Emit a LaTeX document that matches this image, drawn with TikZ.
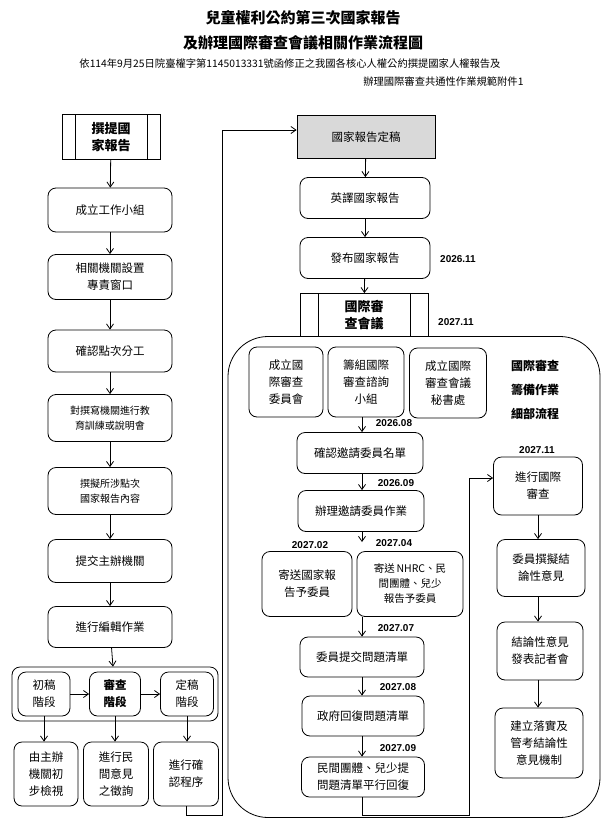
\documentclass[tikz,border=0pt]{standalone}
\usepackage{fontspec}
\setmainfont{Noto Sans CJK TC}
\newfontfamily\dt{Liberation Sans}
\usetikzlibrary{arrows.meta}
\begin{document}
\begin{tikzpicture}[x=1pt,y=-1pt,
 bx/.style={draw,rounded corners=8pt,thick,align=center,font=\fontsize{11.5}{17}\selectfont,inner sep=0pt},
 ar/.style={-{Straight Barb[length=5pt,width=7pt]},thick},
 ln/.style={thick},
 dat/.style={font=\dt\bfseries\fontsize{10}{12}\selectfont}]
\useasboundingbox (0,0) rectangle (607,825);
\node[font=\bfseries\fontsize{15}{18}\selectfont] (t1) at (303,18) {兒童權利公約第三次國家報告};
\node[font=\bfseries\fontsize{15}{18}\selectfont] (t2) at (303,43) {及辦理國際審查會議相關作業流程圖};
\node[font=\fontsize{10.3}{12}\selectfont] (t3) at (290,64) {依114年9月25日院臺權字第1145013331號函修正之我國各核心人權公約撰提國家人權報告及};
\node[font=\fontsize{10.3}{12}\selectfont,anchor=east] (t4) at (527,82) {辦理國際審查共通性作業規範附件1};
% left column
\node[draw,thick,minimum width=98pt,minimum height=45pt,align=center,font=\bfseries\fontsize{13}{17}\selectfont] (a0) at (111,137) {撰提國\\家報告};
\draw[thick] (75,115)--(75,160) (147,115)--(147,160);
\node[bx,minimum width=124pt,minimum height=44pt] (a1) at (110,210) {成立工作小組};
\node[bx,minimum width=124pt,minimum height=45pt] (a2) at (110,277) {相關機關設置\\專責窗口};
\node[bx,minimum width=124pt,minimum height=42pt] (a3) at (110,351) {確認點次分工};
\node[bx,minimum width=124pt,minimum height=47pt,font=\fontsize{10}{15}\selectfont] (a4) at (110,418) {對撰寫機關進行教\\育訓練或說明會};
\node[bx,minimum width=124pt,minimum height=47pt,font=\fontsize{10}{15}\selectfont] (a5) at (110,491) {撰擬所涉點次\\國家報告內容};
\node[bx,minimum width=124pt,minimum height=43pt] (a6) at (110,561) {提交主辦機關};
\node[bx,minimum width=124pt,minimum height=41pt] (a7) at (110,627) {進行編輯作業};
\node[draw,thick,rounded corners=8pt,minimum width=206pt,minimum height=54pt] (g) at (115,694) {};
\node[bx,minimum width=52pt,minimum height=44pt] (s1) at (44,694) {初稿\\階段};
\node[bx,minimum width=51pt,minimum height=44pt,font=\bfseries\fontsize{11.5}{17}\selectfont] (s2) at (115,694) {審查\\階段};
\node[bx,minimum width=53pt,minimum height=44pt] (s3) at (187,694) {定稿\\階段};
\node[bx,minimum width=64pt,minimum height=64pt] (b1) at (46,774) {由主辦\\機關初\\步檢視};
\node[bx,minimum width=65pt,minimum height=64pt] (b2) at (116,774) {進行民\\間意見\\之徵詢};
\node[bx,minimum width=65pt,minimum height=64pt] (b3) at (186,774) {進行確\\認程序};
\draw[ar] (a0)--(a1); \draw[ar] (a1)--(a2); \draw[ar] (a2)--(a3); \draw[ar] (a3)--(a4);
\draw[ar] (a4)--(a5); \draw[ar] (a5)--(a6); \draw[ar] (a6)--(a7); \draw[ar] (a7)--(g);
\draw[ar] (s1)--(s2); \draw[ar] (s2)--(s3);
\draw[ar] (s1.south)--(s1.south|-b1.north);
\draw[ar] (s2.south)--(s2.south|-b2.north);
\draw[ar] (s3.south)--(s3.south|-b3.north);
% right column
\node[draw,thick,fill=black!15,minimum width=138pt,minimum height=43pt,font=\fontsize{11.5}{17}\selectfont] (r0) at (366,137) {國家報告定稿};
\node[bx,minimum width=130pt,minimum height=41pt] (r1) at (365,198) {英譯國家報告};
\node[bx,minimum width=130pt,minimum height=41pt] (r2) at (365,258) {發布國家報告};
\node[draw,thick,minimum width=128pt,minimum height=43pt,align=center,font=\bfseries\fontsize{13}{17}\selectfont] (r3) at (364,315) {國際審\\查會議};
\draw[thick] (318,293)--(318,336) (410,293)--(410,336);
\node[dat] (d1) at (458,259) {2026.11};
\node[dat] (d2) at (456,322) {2027.11};
\draw[ar] (r0)--(r1); \draw[ar] (r1)--(r2); \draw[ar] (r2)--(r3);
\draw[ar] (b3.south)--++(0,9) -| (222,130) -- (r0.west|-130,130);
% big frame
\node[draw,thick,rounded corners=40pt,minimum width=372pt,minimum height=481pt] (F) at (414,577) {};
\node[bx,minimum width=74pt,minimum height=70pt] (c1) at (286,382) {成立國\\際審查\\委員會};
\node[bx,minimum width=76pt,minimum height=70pt] (c2) at (366,382) {籌組國際\\審查諮詢\\小組};
\node[bx,minimum width=77pt,minimum height=70pt] (c3) at (448,383) {成立國際\\審查會議\\秘書處};
\node[align=center,font=\bfseries\fontsize{12}{24}\selectfont] (lab) at (535,390) {國際審查\\籌備作業\\細部流程};
\node[bx,minimum width=126pt,minimum height=41pt] (e1) at (360,453) {確認邀請委員名單};
\node[bx,minimum width=126pt,minimum height=41pt] (e2) at (361,511) {辦理邀請委員作業};
\node[bx,minimum width=90pt,minimum height=65pt] (e3) at (307,584) {寄送國家報\\告予委員};
\node[bx,minimum width=106pt,minimum height=65pt,font=\fontsize{10.5}{15}\selectfont] (e4) at (410,584) {寄送\,NHRC、民\\間團體、兒少\\報告予委員};
\node[bx,minimum width=124pt,minimum height=40pt] (e5) at (362,657) {委員提交問題清單};
\node[bx,minimum width=122pt,minimum height=40pt] (e6) at (363,716) {政府回復問題清單};
\node[bx,minimum width=123pt,minimum height=40pt] (e7) at (363,777) {民間團體、兒少提\\問題清單平行回復};
\node[dat] at (394,423) {2026.08};
\node[dat] at (396,483) {2026.09};
\node[dat] at (310,545) {2027.02};
\node[dat] at (394,543) {2027.04};
\node[dat] at (396,628) {2027.07};
\node[dat] at (398,687) {2027.08};
\node[dat] at (398,748) {2027.09};
\node[dat] at (537,450) {2027.11};
\draw[ar] (c2.south-|362,0)--(e1.north-|362,0);
\draw[ar] (e1.south-|362,0)--(e2.north-|362,0);
\draw[ar] (e2.south-|362,0)--(362,542);
\draw[ar] (362,617)--(e5.north-|362,0);
\draw[ar] (e5.south-|362,0)--(e6.north-|362,0);
\draw[ar] (e6.south-|362,0)--(e7.north-|362,0);
\node[bx,minimum width=89pt,minimum height=58pt] (f1) at (538,486) {進行國際\\審查};
\node[bx,minimum width=88pt,minimum height=57pt] (f2) at (541,568) {委員撰擬結\\論性意見};
\node[bx,minimum width=86pt,minimum height=58pt] (f3) at (540,651) {結論性意見\\發表記者會};
\node[bx,minimum width=88pt,minimum height=70pt] (f4) at (539,743) {建立落實及\\管考結論性\\意見機制};
\draw[ar] (e7.south-|362,0)--(362,815)-|(469,478)--(f1.west|-469,478);
\draw[ar] (f1.south-|538,0)--(f2.north-|538,0);
\draw[ar] (f2.south-|538,0)--(f3.north-|538,0);
\draw[ar] (f3.south-|538,0)--(f4.north-|538,0);
\end{tikzpicture}
\end{document}
